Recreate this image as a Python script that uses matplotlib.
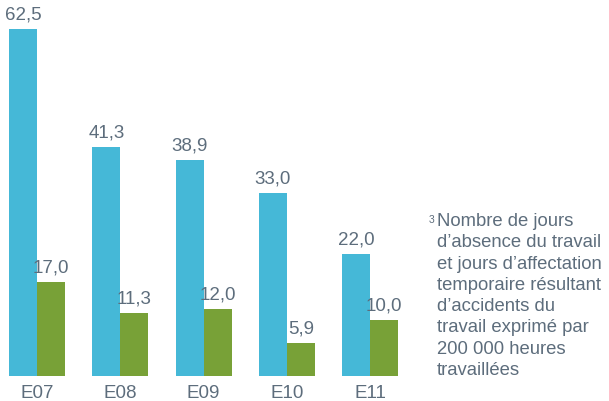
import matplotlib
matplotlib.use("Agg")
import matplotlib.pyplot as plt
import numpy as np

plt.rcParams["font.family"] = ["Liberation Sans", "DejaVu Sans"]

categories = ["E07", "E08", "E09", "E10", "E11"]
blue_values = [62.5, 41.3, 38.9, 33.0, 22.0]
green_values = [17.0, 11.3, 12.0, 5.9, 10.0]
note = ("Nombre de jours\nd\u2019absence du travail\net jours d\u2019affectation\n"
        "temporaire résultant\nd\u2019accidents du\ntravail exprimé par\n"
        "200 000 heures\ntravaillées")

BLUE = "#45b8d7"
GREEN = "#78a137"
TEXT = "#5d6d7c"

W, H = 609, 401
fig = plt.figure(figsize=(W / 100, H / 100), dpi=100)
# axes placed in pixel coordinates: left 0, bottom 25, width 410, height 376
ax = fig.add_axes([0, 25 / H, 410 / W, 376 / H])

x = np.arange(len(categories))
bw = 0.336
ax.bar(x - bw / 2, blue_values, bw, color=BLUE)
ax.bar(x + bw / 2, green_values, bw, color=GREEN)

for xi, v in zip(x, blue_values):
    ax.annotate(f"{v:.1f}".replace(".", ","), (xi - bw / 2, v), xytext=(0, 4),
                textcoords="offset points", ha="center", va="bottom",
                fontsize=13.5, color=TEXT)
for xi, v in zip(x, green_values):
    ax.annotate(f"{v:.1f}".replace(".", ","), (xi + bw / 2, v), xytext=(0, 4),
                textcoords="offset points", ha="center", va="bottom",
                fontsize=13.5, color=TEXT)

ax.set_xlim(-0.444, 4.478)
ax.set_ylim(0, 67.7)
ax.set_xticks(x, categories)
ax.tick_params(length=0, labelsize=13.5, labelcolor=TEXT, pad=6.5)
ax.set_yticks([])
for s in ax.spines.values():
    s.set_visible(False)

fig.text(437 / W, 1 - 213 / H, note, ha="left", va="top", fontsize=13.3,
         color=TEXT, linespacing=1.33)
fig.text(429 / W, 1 - 215 / H, "3", ha="left", va="top", fontsize=7.5,
         color=TEXT)

fig.savefig("out.png", dpi=100)
